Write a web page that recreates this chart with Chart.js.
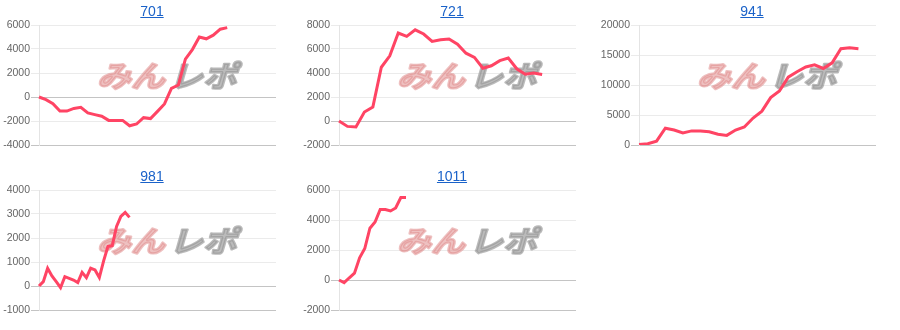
<!DOCTYPE html>
<html>
<head>
<meta charset="utf-8">
<script src="https://cdn.jsdelivr.net/npm/chart.js@4/dist/chart.umd.min.js"></script>
<style>
  body { margin: 0; background: #fff; font-family: "Liberation Sans", Arial, sans-serif; }
  #wrap { width: 900px; display: flex; flex-wrap: wrap; }
  .cell { position: relative; width: 300px; height: 165px; }
  .cell canvas { position: absolute; left: 0; top: 0; }
  .cell a { position: absolute; top: 1px; left: 0; width: 300px; padding-left: 4px; box-sizing: border-box;
            text-align: center; font-size: 14px; line-height: 20px; color: #1a62c9; text-decoration: underline; }
</style>
</head>
<body>
<div id="wrap"></div>
<script>
	// ******************************************************** DATA

	var titles = ["701", "721", "941", "981", "1011"];

	// number of slots on the (hidden) x axis of each chart
	var slotCount = [35, 29, 28, 56, 47];

	var s701 = [0, -220, -550, -1170, -1170, -950, -860, -1330, -1470, -1600, -1950, -1950, -1950, -2400,
		-2250, -1720, -1800, -1200, -580, 720, 1000, 3150, 3950, 5000, 4850, 5150, 5650, 5780];
	var s721 = [0, -450, -500, 750, 1170, 4480, 5430, 7330, 7050, 7600, 7250, 6630, 6770, 6830, 6400,
		5650, 5300, 4400, 4600, 5030, 5250, 4350, 3900, 4000, 3880];
	var s941 = [100, 200, 650, 2800, 2500, 2000, 2350, 2350, 2200, 1800, 1600, 2500, 3000, 4500, 5650,
		7900, 9000, 11300, 12200, 13000, 13350, 12750, 13700, 16050, 16200, 16050];
	var s981 = [0, 180, 740, 420, 180, -70, 390, 320, 250, 140, 570, 350, 740, 670, 350, 1050, 1650,
		1680, 2480, 2900, 3070, 2860];
	var s1011 = [0, -180, 150, 450, 1480, 2100, 3450, 3870, 4700, 4700, 4600, 4800, 5500, 5500];

	var series = [s701, s721, s941, s981, s1011];

	// y tick settings
	var yMin  = [-4000, -2000, 0, -1000, -2000];
	var yMax  = [6000, 8000, 20000, 4000, 6000];
	var yStep = [2000, 2000, 5000, 1000, 2000];

	// ******************************************************** WATERMARK

	var watermark = {
		id: 'watermark',
		beforeDatasetsDraw: function (chart) {
			var ctx = chart.ctx, a = chart.chartArea;
			var cx = a.left + 128, cy = a.top + 51;
			ctx.save();
			ctx.translate(cx, cy);
			ctx.scale(1.06, 0.92);
			ctx.font = 'italic bold 32px "Noto Sans CJK JP"';
			ctx.textBaseline = 'middle';
			ctx.lineJoin = 'round';
			ctx.lineWidth = 2.5;
			ctx.textAlign = 'right';
			ctx.fillStyle = ctx.strokeStyle = 'rgba(224,140,140,0.55)';
			ctx.fillText('みん', -2, 0);
			ctx.strokeText('みん', -2, 0);
			ctx.textAlign = 'left';
			ctx.fillStyle = ctx.strokeStyle = 'rgba(150,150,150,0.65)';
			ctx.fillText('レポ', 2, 0);
			ctx.strokeText('レポ', 2, 0);
			ctx.restore();
		}
	};

	// ******************************************************** CHARTS

	var wrap = document.getElementById('wrap');

	titles.forEach(function (t, i) {
		var cell = document.createElement('div');
		cell.className = 'cell';
		var cv = document.createElement('canvas');
		cv.width = 300; cv.height = 160;
		cv.style.width = '300px'; cv.style.height = '160px';
		cell.appendChild(cv);
		var a = document.createElement('a');
		a.href = '#'; a.textContent = t;
		cell.appendChild(a);
		wrap.appendChild(cell);

		var labels = [];
		for (var k = 0; k < slotCount[i]; k++) labels.push(String(k + 1));

		new Chart(cv.getContext('2d'), {
			type: 'line',
			data: {
				labels: labels,
				datasets: [{
					data: series[i],
					borderColor: 'rgb(255,68,100)',
					borderWidth: 3,
					pointRadius: 0,
					fill: false,
					tension: 0
				}]
			},
			options: {
				responsive: false,
				animation: false,
				layout: { padding: { top: 25, right: 24, bottom: 15, left: 0 } },
				plugins: { legend: { display: false }, tooltip: { enabled: false } },
				scales: {
					x: { display: false },
					y: {
						min: yMin[i], max: yMax[i],
						afterFit: function (s) { s.width = 39; },
						ticks: {
							stepSize: yStep[i], padding: 1, color: '#666',
							font: { family: '"Liberation Sans", Arial', size: 10.5 },
							callback: function (v) { return String(v); }
						},
						border: { color: '#e4e4e4', width: 1 },
						grid: {
							tickLength: 8,
							color: function (c) {
								return (c.tick && (c.tick.value === 0 || c.tick.value === yMin[i])) ? '#c4c4c4' : '#ebebeb';
							}
						}
					}
				}
			},
			plugins: [watermark]
		});
	});
</script>
</body>
</html>
